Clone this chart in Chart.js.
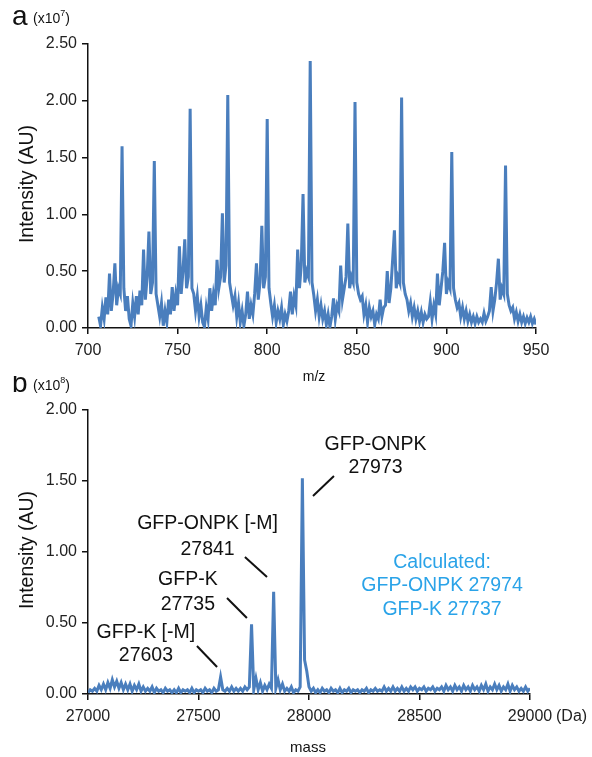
<!DOCTYPE html>
<html>
<head>
<meta charset="utf-8">
<script src="https://cdn.jsdelivr.net/npm/chart.js@4.4.1/dist/chart.umd.min.js"></script>
<style>
  html, body { margin: 0; padding: 0; background: #fff; }
  #wrap { position: relative; width: 592px; height: 757px; overflow: hidden; }
  #wrap canvas { position: absolute; left: 0; }
  #chart-a { top: 0; }
  #chart-b { top: 376px; }
</style>
</head>
<body>
<div id="wrap">
  <canvas id="chart-a" width="592" height="392"></canvas>
  <canvas id="chart-b" width="592" height="381"></canvas>
</div>
<script>
// ---- panel a: ESI spectrum, m/z 706..952, one value per m/z unit (x1e7)
var mzStart = 706;
var mzStep = 1;
var intensityA = [
  0.10, 0.02, 0.18, 0.08, 0.27, 0.12, 0.48, 0.15, 0.30, 0.57,   // 706
  0.20, 0.35, 0.30, 1.60, 0.35, 0.15, 0.28, 0.08, 0.02, 0.22,   // 716
  0.10, 0.28, 0.12, 0.33, 0.20, 0.69, 0.25, 0.45, 0.85, 0.30,   // 726
  0.40, 1.47, 0.30, 0.20, 0.10, 0.22, 0.02, 0.15, 0.05, 0.25,   // 736
  0.12, 0.36, 0.15, 0.30, 0.20, 0.72, 0.30, 0.50, 0.78, 0.35,   // 746
  0.45, 1.93, 0.35, 0.30, 0.15, 0.28, 0.10, 0.20, 0.05, 0.01,   // 756
  0.18, 0.08, 0.35, 0.15, 0.30, 0.20, 0.60, 0.35, 0.45, 1.01,   // 766
  0.40, 0.55, 2.05, 0.40, 0.30, 0.20, 0.28, 0.10, 0.22, 0.05,   // 776
  0.15, 0.02, 0.12, 0.32, 0.08, 0.20, 0.12, 0.30, 0.57, 0.25,   // 786
  0.40, 0.90, 0.35, 0.45, 1.84, 0.35, 0.22, 0.10, 0.20, 0.05,   // 796
  0.15, 0.08, 0.18, 0.03, 0.12, 0.06, 0.15, 0.32, 0.12, 0.28,   // 806
  0.20, 0.69, 0.35, 0.55, 1.18, 0.40, 0.50, 0.45, 2.35, 0.40,   // 816
  0.29, 0.15, 0.25, 0.10, 0.20, 0.08, 0.15, 0.03, 0.12, 0.01,   // 826
  0.10, 0.26, 0.08, 0.20, 0.15, 0.55, 0.25, 0.35, 0.45, 0.92,   // 836
  0.35, 0.45, 0.40, 1.99, 0.40, 0.30, 0.25, 0.28, 0.12, 0.20,   // 846
  0.05, 0.18, 0.10, 0.15, 0.03, 0.12, 0.08, 0.25, 0.10, 0.18,   // 856
  0.20, 0.50, 0.22, 0.35, 0.60, 0.86, 0.35, 0.45, 0.40, 2.03,   // 866
  0.40, 0.30, 0.25, 0.15, 0.22, 0.10, 0.18, 0.08, 0.15, 0.06,   // 876
  0.14, 0.05, 0.12, 0.08, 0.10, 0.23, 0.08, 0.20, 0.12, 0.48,   // 886
  0.20, 0.35, 0.50, 0.75, 0.30, 0.40, 0.35, 1.55, 0.35, 0.25,   // 896
  0.18, 0.22, 0.10, 0.18, 0.08, 0.15, 0.06, 0.12, 0.05, 0.10,   // 906
  0.04, 0.10, 0.05, 0.08, 0.05, 0.13, 0.06, 0.10, 0.15, 0.36,   // 916
  0.15, 0.25, 0.40, 0.61, 0.25, 0.35, 0.30, 1.43, 0.30, 0.20,   // 926
  0.15, 0.18, 0.08, 0.14, 0.06, 0.12, 0.05, 0.10, 0.04, 0.09,   // 936
  0.05, 0.10, 0.04, 0.08, 0.03, 0.10, 0.06                      // 946
];
var mzMin = 700, mzMax = 950, mzTickStep = 50;
var intAMax = 2.5;

// ---- panel b: deconvoluted mass 27000..29000, one value per 10 Da (x1e6)
var massStart = 27000;
var massStep = 10;
var intensityB = [
  0.01, 0.03, 0.02, 0.04, 0.02, 0.06, 0.03, 0.07, 0.03, 0.08,   // 27000
  0.04, 0.10, 0.05, 0.09, 0.04, 0.08, 0.03, 0.07, 0.03, 0.07,   // 27100
  0.02, 0.06, 0.03, 0.07, 0.02, 0.05, 0.02, 0.04, 0.02, 0.05,   // 27200
  0.01, 0.04, 0.02, 0.03, 0.01, 0.04, 0.02, 0.03, 0.01, 0.03,   // 27300
  0.01, 0.04, 0.01, 0.03, 0.02, 0.03, 0.01, 0.04, 0.01, 0.03,   // 27400
  0.02, 0.03, 0.01, 0.04, 0.02, 0.03, 0.01, 0.04, 0.02, 0.03,   // 27500
  0.12, 0.03, 0.02, 0.04, 0.02, 0.05, 0.02, 0.04, 0.02, 0.04,   // 27600
  0.02, 0.05, 0.03, 0.05, 0.49, 0.03, 0.11, 0.03, 0.08, 0.02,   // 27700
  0.06, 0.03, 0.07, 0.04, 0.72, 0.04, 0.10, 0.03, 0.07, 0.02,   // 27800
  0.04, 0.02, 0.05, 0.01, 0.03, 0.02, 0.05, 1.52, 0.24, 0.16,   // 27900
  0.05, 0.02, 0.04, 0.01, 0.03, 0.01, 0.04, 0.02, 0.03, 0.01,   // 28000
  0.04, 0.02, 0.03, 0.01, 0.04, 0.01, 0.03, 0.02, 0.04, 0.01,   // 28100
  0.03, 0.02, 0.03, 0.01, 0.03, 0.02, 0.04, 0.01, 0.03, 0.02,   // 28200
  0.04, 0.02, 0.03, 0.02, 0.05, 0.02, 0.04, 0.02, 0.05, 0.02,   // 28300
  0.04, 0.02, 0.05, 0.02, 0.04, 0.02, 0.05, 0.03, 0.05, 0.02,   // 28400
  0.04, 0.03, 0.05, 0.02, 0.04, 0.03, 0.05, 0.02, 0.04, 0.03,   // 28500
  0.05, 0.02, 0.06, 0.03, 0.05, 0.02, 0.06, 0.03, 0.05, 0.02,   // 28600
  0.06, 0.03, 0.05, 0.02, 0.06, 0.03, 0.05, 0.02, 0.06, 0.03,   // 28700
  0.07, 0.02, 0.05, 0.03, 0.07, 0.03, 0.06, 0.02, 0.05, 0.03,   // 28800
  0.07, 0.02, 0.06, 0.03, 0.05, 0.02, 0.04, 0.02, 0.05, 0.02,   // 28900
  0.04                                                          // 29000
];
var massMin = 27000, massMax = 29000, massTickStep = 500;
var intBMax = 2.0;

// peak labels in data units (mass, intensity of each text line)
var peakLabels = [
  { lines: ['GFP-ONPK', '27973'],      mass: 28301, at: [1.754, 1.592], lead: [28018, 1.394, 28113, 1.535] },
  { lines: ['GFP-ONPK [-M]', '27841'], mass: 27541, at: [1.197, 1.018], lead: [27710, 0.965, 27810, 0.824] },
  { lines: ['GFP-K', '27735'],         mass: 27452, at: [0.803, 0.627], lead: [27629, 0.676, 27719, 0.535] },
  { lines: ['GFP-K [-M]', '27603'],    mass: 27262, at: [0.433, 0.271], lead: [27493, 0.338, 27584, 0.190] }
];
var calcLines = ['Calculated:', 'GFP-ONPK 27974', 'GFP-K 27737'];
var calcMass = 28602;
var calcAt = [0.926, 0.761, 0.595];

var FONT = 'Arial, "Liberation Sans", Helvetica, sans-serif';
var LINE_BLUE = '#4a7ebd';
var CALC_BLUE = '#2aa3e8';

function toXY(start, step, vals) {
  return vals.map(function(v, i) { return { x: start + i * step, y: v }; });
}

function drawText(ctx, s, x, y, size, color, align) {
  ctx.save();
  ctx.font = size + 'px ' + FONT;
  ctx.fillStyle = color || '#111';
  ctx.textAlign = align || 'center';
  ctx.textBaseline = 'middle';
  ctx.fillText(s, x, y);
  ctx.restore();
}

// panel letter + exponent, e.g. "a (x10^7)"
function drawHeader(ctx, letter, exp, y) {
  drawText(ctx, letter, 12, y - 2, 28, '#111', 'left');
  ctx.save();
  ctx.font = '14px ' + FONT;
  ctx.fillStyle = '#111';
  ctx.textBaseline = 'middle';
  ctx.textAlign = 'left';
  var x = 33;
  ctx.fillText('(x10', x, y);
  x += ctx.measureText('(x10').width;
  ctx.font = '9px ' + FONT;
  ctx.fillText(exp, x, y - 5);
  x += ctx.measureText(exp).width;
  ctx.font = '14px ' + FONT;
  ctx.fillText(')', x, y);
  ctx.restore();
}

function drawYTitle(ctx, chart) {
  ctx.save();
  ctx.translate(28, (chart.chartArea.top + chart.chartArea.bottom) / 2 - 2);
  ctx.rotate(-Math.PI / 2);
  drawText(ctx, 'Intensity (AU)', 0, 0, 19.5, '#111', 'center');
  ctx.restore();
}

function axes(xMin, xMax, xStep, yMax, xHeight) {
  var tickFont = { family: FONT, size: 16 };
  return {
    x: {
      type: 'linear', min: xMin, max: xMax,
      afterFit: function(s) { s.height = xHeight; },
      border: { display: true, color: '#111', width: 1.5 },
      grid: { display: true, drawOnChartArea: false, drawTicks: true, tickLength: 6, color: '#111', tickColor: '#111', lineWidth: 1.5 },
      ticks: { stepSize: xStep, autoSkip: false, maxRotation: 0, padding: 7, color: '#222', font: tickFont,
               callback: function(v) { return String(v); } }
    },
    y: {
      type: 'linear', min: 0, max: yMax,
      afterFit: function(s) { s.width = 88; },
      border: { display: true, color: '#111', width: 1.5 },
      grid: { display: true, drawOnChartArea: false, drawTicks: true, tickLength: 6, color: '#111', tickColor: '#111', lineWidth: 1.5 },
      ticks: { stepSize: 0.5, padding: 5, color: '#222', font: tickFont,
               callback: function(v) { return v.toFixed(2); } }
    }
  };
}

function lineSet(points) {
  return {
    data: points,
    borderColor: LINE_BLUE,
    borderWidth: 3,
    pointRadius: 0,
    tension: 0,
    fill: false
  };
}

// ---- chart a
new Chart(document.getElementById('chart-a'), {
  type: 'line',
  data: { datasets: [lineSet(toXY(mzStart, mzStep, intensityA))] },
  options: {
    responsive: false,
    animation: false,
    layout: { padding: { top: 44, right: 56, bottom: 0, left: 0 } },
    plugins: { legend: { display: false }, tooltip: { enabled: false } },
    scales: axes(mzMin, mzMax, mzTickStep, intAMax, 64)
  },
  plugins: [{
    id: 'extrasA',
    afterDraw: function(chart) {
      var ctx = chart.ctx;
      drawHeader(ctx, 'a', '7', 19);
      drawYTitle(ctx, chart);
      drawText(ctx, 'm/z', 314, 377, 14, '#111', 'center');
    }
  }]
});

// ---- chart b
new Chart(document.getElementById('chart-b'), {
  type: 'line',
  data: { datasets: [lineSet(toXY(massStart, massStep, intensityB))] },
  options: {
    responsive: false,
    animation: false,
    layout: { padding: { top: 34, right: 62, bottom: 0, left: 0 } },
    plugins: { legend: { display: false }, tooltip: { enabled: false } },
    scales: axes(massMin, massMax, massTickStep, intBMax, 63)
  },
  plugins: [{
    id: 'extrasB',
    afterDraw: function(chart) {
      var ctx = chart.ctx;
      var xs = chart.scales.x, ys = chart.scales.y;
      drawHeader(ctx, 'b', '8', 10);
      drawYTitle(ctx, chart);
      drawText(ctx, 'mass', 308, 372, 15, '#111', 'center');
      drawText(ctx, '(Da)', 556, 341, 16, '#222', 'left');

      peakLabels.forEach(function(p) {
        var cx = xs.getPixelForValue(p.mass);
        p.lines.forEach(function(s, i) {
          drawText(ctx, s, cx, ys.getPixelForValue(p.at[i]), 19.5, '#111', 'center');
        });
        ctx.save();
        ctx.strokeStyle = '#111';
        ctx.lineWidth = 2;
        ctx.beginPath();
        ctx.moveTo(xs.getPixelForValue(p.lead[0]), ys.getPixelForValue(p.lead[1]));
        ctx.lineTo(xs.getPixelForValue(p.lead[2]), ys.getPixelForValue(p.lead[3]));
        ctx.stroke();
        ctx.restore();
      });

      var bx = xs.getPixelForValue(calcMass);
      calcLines.forEach(function(s, i) {
        drawText(ctx, s, bx, ys.getPixelForValue(calcAt[i]), 19.5, CALC_BLUE, 'center');
      });
    }
  }]
});
</script>
</body>
</html>
